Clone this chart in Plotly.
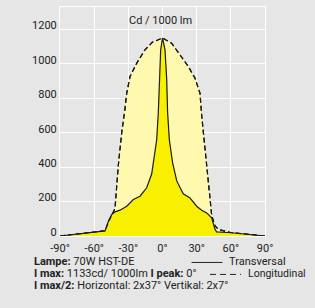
import plotly.graph_objects as go

# ---- data ----
trans_deg = [-90, -50.4, -47.5, -44.6, -41.7, -37.3, -31.4, -25.6, -19.7, -13.9, -9.5, -8, -5.1, -3.7, -2.8, -1.6, 0,
             2.2, 3.7, 4.5, 6, 8.9, 12.5, 18.2, 24.1, 30, 34.4, 38.8, 43.2, 46, 47.5, 60.7, 90]
trans_val = [0, 30, 86, 125, 140, 150, 173, 212, 231, 280, 360, 424, 559, 714, 907, 1081, 1150,
             1081, 907, 714, 559, 424, 320, 245, 221, 173, 150, 134, 105, 40, 24, 19, 0]

long_deg = [-90, -50.4, -47.5, -44.6, -41.7, -38.8, -35.8, -32.9, -31.4, -28.5, -22.6, -15.4, -9, 0,
            8, 15.4, 22.7, 28.5, 32.9, 34.4, 37.3, 38.8, 40.2, 41.7, 43.2, 46, 49, 60.7, 90]
long_val = [0, 30, 80, 125, 160, 410, 600, 740, 830, 926, 1004, 1081, 1125, 1150,
            1120, 1052, 984, 917, 830, 700, 511, 443, 318, 250, 120, 60, 38, 19, 0]

x_ticks = [-90, -60, -30, 0, 30, 60, 90]
x_labels = ["-90°", "-60°", "-30°", "0°", "30°", "60°", "90°"]
y_ticks = [0, 200, 400, 600, 800, 1000, 1200]

title_text = "Cd / 1000 lm"
info_lines = [
    "<b>Lampe:</b> 70W HST-DE",
    "<b>I max:</b> 1133cd/ 1000lm <b>I peak:</b> 0°",
    "<b>I max/2:</b> Horizontal: 2x37° Vertikal: 2x7°",
]
legend_labels = ["Transversal", "Longitudinal"]

# ---- layout geometry (pixels) ----
W, H = 315, 308
L, R, T, B = 60, 265, 7, 236.5
FONT = "Roboto"
FS = 11
TXT = "#222222"
BG = "#e6e6e6"


def px(xp):
    return (xp - L) / (R - L)


def py(yp):
    return (B - yp) / (B - T)


fig = go.Figure()
fig.add_trace(go.Scatter(x=long_deg, y=long_val, mode="lines", fill="tozeroy",
                         fillcolor="#fff9b0", line=dict(color="#1a1a1a", width=1.2, dash="5px,3px"),
                         showlegend=False, hoverinfo="skip"))
fig.add_trace(go.Scatter(x=trans_deg, y=trans_val, mode="lines", fill="tozeroy",
                         fillcolor="#f8f000", line=dict(color="#1a1a1a", width=1.2),
                         showlegend=False, hoverinfo="skip"))
# redraw dashed line over the yellow fill
fig.add_trace(go.Scatter(x=long_deg, y=long_val, mode="lines",
                         line=dict(color="#1a1a1a", width=1.2, dash="5px,3px"),
                         showlegend=False, hoverinfo="skip"))

annotations = [
    dict(text=title_text, x=px(160), y=py(21), xref="paper", yref="paper",
         showarrow=False, xanchor="center", yanchor="middle",
         font=dict(family=FONT, size=FS, color=TXT)),
]
line_y = [262.5, 274.5, 286]
for t, yy in zip(info_lines, line_y):
    annotations.append(dict(text=t, x=px(32), y=py(yy), xref="paper", yref="paper",
                            showarrow=False, xanchor="left", yanchor="middle",
                            font=dict(family=FONT, size=FS, color=TXT)))
annotations.append(dict(text=legend_labels[0], x=px(227), y=py(262.5), xref="paper", yref="paper",
                        showarrow=False, xanchor="left", yanchor="middle",
                        font=dict(family=FONT, size=FS, color=TXT)))
annotations.append(dict(text=legend_labels[1], x=px(246), y=py(274.5), xref="paper", yref="paper",
                        showarrow=False, xanchor="left", yanchor="middle",
                        font=dict(family=FONT, size=10.5, color=TXT)))

shapes = [
    dict(type="line", xref="paper", yref="paper", x0=px(191.5), x1=px(222.5), y0=py(263), y1=py(263),
         line=dict(color=TXT, width=1)),
    dict(type="line", xref="paper", yref="paper", x0=px(210), x1=px(241), y0=py(275), y1=py(275),
         line=dict(color=TXT, width=1, dash="6px,4px")),
]

fig.update_layout(
    width=W, height=H,
    margin=dict(l=L, r=W - R, t=T, b=H - B),
    paper_bgcolor=BG, plot_bgcolor=BG,
    font=dict(family=FONT, size=FS, color=TXT),
    annotations=annotations, shapes=shapes,
    showlegend=False,
)
fig.update_xaxes(range=[-90, 90], tickvals=x_ticks, ticktext=x_labels,
                 showgrid=True, gridcolor="white", gridwidth=1,
                 showline=True, linecolor="white", linewidth=1, mirror=True,
                 zeroline=False, ticks="", tickfont=dict(family=FONT, size=FS, color=TXT),
                 ticklabelstandoff=2, fixedrange=True)
fig.update_yaxes(range=[0, 1330], tickvals=y_ticks,
                 showgrid=True, gridcolor="white", gridwidth=1,
                 showline=True, linecolor="white", linewidth=1, mirror=True,
                 zeroline=False, ticks="", tickfont=dict(family=FONT, size=FS, color=TXT),
                 ticklabelshift=-4, fixedrange=True)

fig.write_html("out.html", config=dict(displayModeBar=False),
               post_script="document.body.style.margin='0';document.body.style.background='%s';" % BG)
